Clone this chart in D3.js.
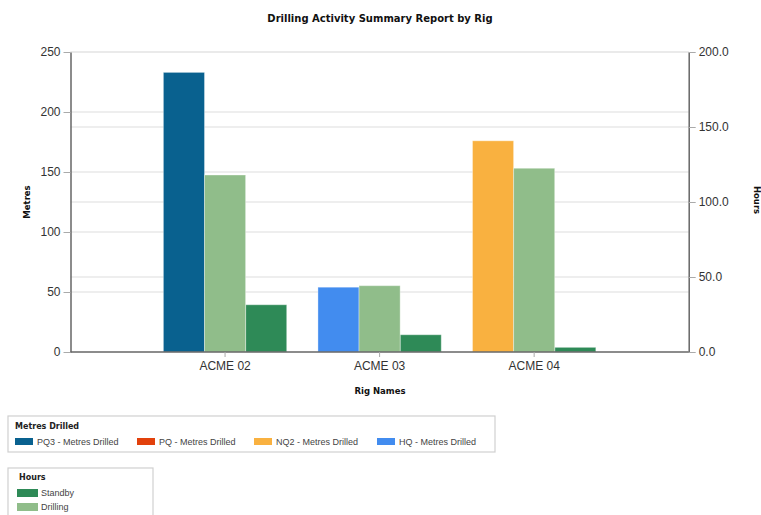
<!DOCTYPE html>
<html>
<head>
<meta charset="utf-8">
<script src="https://cdn.jsdelivr.net/npm/d3@7"></script>
<style>
  html, body { margin: 0; padding: 0; background: #fff; }
  svg { display: block; font-family: "Liberation Sans", Arial, sans-serif; }
</style>
</head>
<body>
<svg id="chart" width="761" height="515"></svg>
<script>
// Rigs on the category axis
const rigs = ["ACME 02", "ACME 03", "ACME 04"];

// Metres drilled per bit size (left axis, stacked in one column)
const pq3Metres = [233, 0, 0];
const pqMetres  = [0, 0, 0];
const nq2Metres = [0, 0, 176];
const hqMetres  = [0, 54, 0];

// Hours (right axis)
const drillingHours = [118, 44.2, 122.5];
const standbyHours  = [31.5, 11.5, 3.1];

// Axis ticks
const metreTicks = [0, 50, 100, 150, 200, 250];
const hourTicks  = [0, 50, 100, 150, 200];

const metreSeries = [
  { name: "PQ3 - Metres Drilled", values: pq3Metres, color: "#09618f" },
  { name: "PQ - Metres Drilled",  values: pqMetres,  color: "#e2410c" },
  { name: "NQ2 - Metres Drilled", values: nq2Metres, color: "#f9b140" },
  { name: "HQ - Metres Drilled",  values: hqMetres,  color: "#428cef" }
];
const hourSeries = [
  { name: "Standby",  values: standbyHours,  color: "#2e8a57" },
  { name: "Drilling", values: drillingHours, color: "#90bd8a" }
];

const svg = d3.select("#chart");
const plot = { left: 70.5, right: 688.7, top: 52, bottom: 352 };

const x = d3.scaleBand().domain(rigs).range([plot.left, plot.right])
  .paddingInner(0).paddingOuter(0.5);
const slot = d3.scaleBand().domain(["metres", "Drilling", "Standby"])
  .range([0, x.bandwidth()]).paddingInner(0).paddingOuter(0.38);
const yM = d3.scaleLinear().domain([0, 250]).range([plot.bottom, plot.top]);
const yH = d3.scaleLinear().domain([0, 200]).range([plot.bottom, plot.top]);

// Title
svg.append("text").attr("x", 380).attr("y", 22).attr("text-anchor", "middle")
  .attr("font-family", "'DejaVu Sans', Verdana, sans-serif")
  .attr("font-weight", "bold").attr("font-size", 10).attr("fill", "#111")
  .text("Drilling Activity Summary Report by Rig");

// Gridlines for both value axes
const grid = svg.append("g").attr("stroke", "#e8e8e8").attr("stroke-width", 1.5);
grid.selectAll("line.m").data(metreTicks.filter(d => d > 0)).join("line")
  .attr("x1", plot.left).attr("x2", plot.right)
  .attr("y1", d => yM(d)).attr("y2", d => yM(d));
grid.selectAll("line.h").data(hourTicks.filter(d => d > 0)).join("line")
  .attr("x1", plot.left).attr("x2", plot.right)
  .attr("y1", d => yH(d)).attr("y2", d => yH(d));

// Metres column: stacked series
const stack = d3.stack().keys(metreSeries.map((s, i) => i))
  .value((row, k) => metreSeries[k].values[row]);
const stacked = stack(rigs.map((r, i) => i));
const bars = svg.append("g");
stacked.forEach((layer, k) => {
  bars.selectAll(null).data(layer.filter(d => d[1] - d[0] > 0)).join("rect")
    .attr("x", d => x(rigs[d.data]) + slot("metres"))
    .attr("width", slot.bandwidth())
    .attr("y", d => yM(d[1]))
    .attr("height", d => yM(d[0]) - yM(d[1]))
    .attr("fill", metreSeries[k].color)
    .attr("stroke", "rgba(255,255,255,0.35)").attr("stroke-width", 1);
});

// Hours columns
hourSeries.forEach(s => {
  bars.selectAll(null).data(rigs).join("rect")
    .attr("x", d => x(d) + slot(s.name))
    .attr("width", slot.bandwidth())
    .attr("y", (d, i) => yH(s.values[i]))
    .attr("height", (d, i) => yH(0) - yH(s.values[i]))
    .attr("fill", s.color)
    .attr("stroke", "rgba(255,255,255,0.35)").attr("stroke-width", 1);
});

// Axes
function styleAxis(g) {
  g.selectAll(".domain").attr("stroke", "#666").attr("stroke-width", 1.5);
  g.selectAll(".tick line").attr("stroke", "#aaa").attr("stroke-width", 1);
  g.selectAll(".tick text").attr("fill", "#333").attr("font-size", 12)
    .attr("font-family", "'Liberation Sans', Arial, sans-serif");
}
const axL = svg.append("g").attr("transform", `translate(${plot.left},0)`)
  .call(d3.axisLeft(yM).tickValues(metreTicks).tickSize(7).tickSizeOuter(0).tickPadding(3));
styleAxis(axL);
const axR = svg.append("g").attr("transform", `translate(${plot.right},0)`)
  .call(d3.axisRight(yH).tickValues(hourTicks).tickFormat(d3.format(".1f"))
    .tickSize(7).tickSizeOuter(0).tickPadding(3));
styleAxis(axR);
const axB = svg.append("g").attr("transform", `translate(0,${plot.bottom})`)
  .call(d3.axisBottom(x).tickSize(5).tickSizeOuter(0).tickPadding(4));
styleAxis(axB);
axB.select(".domain").attr("d", `M${plot.left},0H${plot.right}`);

// Axis titles
const titleFont = "'DejaVu Sans', Verdana, sans-serif";
svg.append("text").attr("x", 380).attr("y", 394).attr("text-anchor", "middle")
  .attr("font-family", titleFont).attr("font-weight", "bold").attr("font-size", 8.5)
  .attr("fill", "#111").text("Rig Names");
svg.append("text").attr("transform", "translate(30,202) rotate(-90)")
  .attr("text-anchor", "middle").attr("font-family", titleFont)
  .attr("font-weight", "bold").attr("font-size", 8.5).attr("fill", "#111").text("Metres");
svg.append("text").attr("transform", "translate(754,200) rotate(90)")
  .attr("text-anchor", "middle").attr("font-family", titleFont)
  .attr("font-weight", "bold").attr("font-size", 8.5).attr("fill", "#111").text("Hours");

// Legends
const legendFont = "'Liberation Sans', Arial, sans-serif";
const lg1 = svg.append("g");
lg1.append("rect").attr("x", 8).attr("y", 416).attr("width", 487).attr("height", 36)
  .attr("fill", "#fff").attr("stroke", "#d0d0d0").attr("stroke-width", 1.2);
lg1.append("text").attr("x", 15).attr("y", 429).attr("font-family", titleFont)
  .attr("font-weight", "bold").attr("font-size", 8).attr("fill", "#222").text("Metres Drilled");
const itemX = [15, 137, 254, 377];
metreSeries.forEach((s, i) => {
  lg1.append("rect").attr("x", itemX[i]).attr("y", 438).attr("width", 18).attr("height", 7)
    .attr("fill", s.color);
  lg1.append("text").attr("x", itemX[i] + 22).attr("y", 444.5).attr("font-family", legendFont)
    .attr("font-size", 9).attr("fill", "#444").text(s.name);
});

const lg2 = svg.append("g");
lg2.append("rect").attr("x", 8).attr("y", 468).attr("width", 145).attr("height", 60)
  .attr("fill", "#fff").attr("stroke", "#d0d0d0").attr("stroke-width", 1.2);
lg2.append("text").attr("x", 19).attr("y", 480).attr("font-family", titleFont)
  .attr("font-weight", "bold").attr("font-size", 8).attr("fill", "#222").text("Hours");
hourSeries.forEach((s, i) => {
  const yy = 489 + i * 14;
  lg2.append("rect").attr("x", 17).attr("y", yy).attr("width", 21).attr("height", 8)
    .attr("fill", s.color);
  lg2.append("text").attr("x", 41).attr("y", yy + 7).attr("font-family", legendFont)
    .attr("font-size", 9).attr("fill", "#444").text(s.name);
});
</script>
</body>
</html>
